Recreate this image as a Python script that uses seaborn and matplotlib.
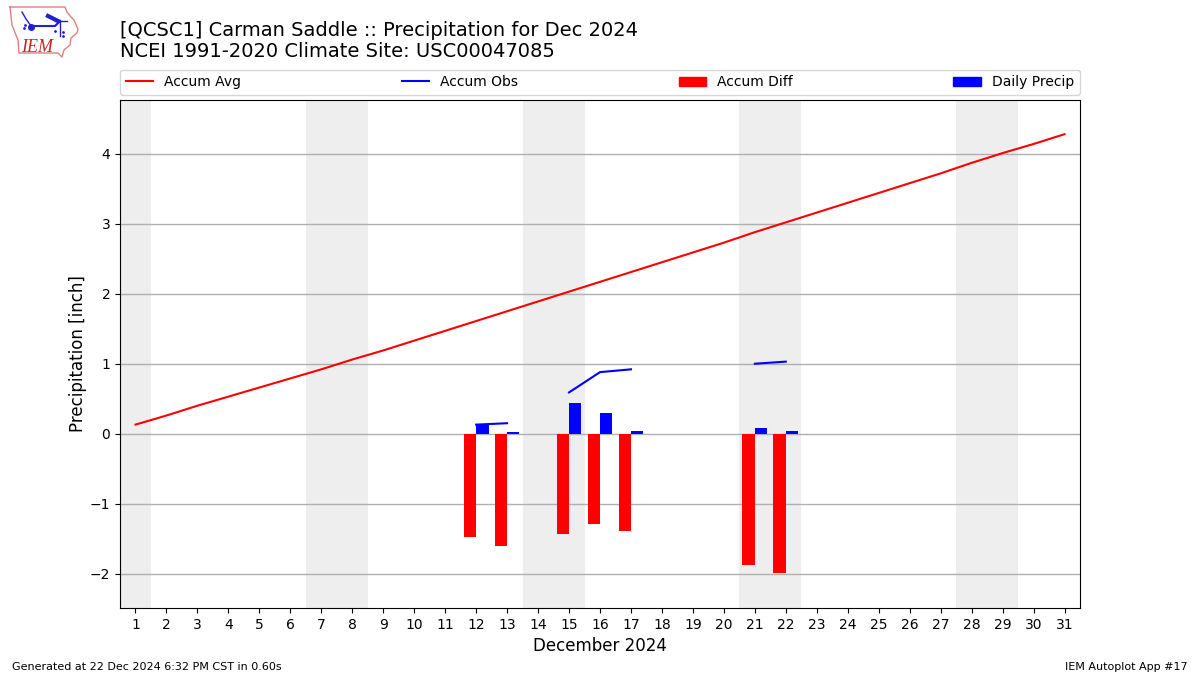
import numpy as np
import pandas as pd
import matplotlib
matplotlib.use("Agg")
import matplotlib.pyplot as plt
from matplotlib.patches import Patch
import seaborn as sns

# ==============================
# data
# ==============================
days = list(range(1, 32))
accum_avg = [0.13, 0.26, 0.40, 0.53, 0.66, 0.79, 0.92, 1.06, 1.19, 1.33, 1.47,
             1.61, 1.75, 1.89, 2.03, 2.17, 2.31, 2.45, 2.59, 2.73, 2.88, 3.02,
             3.16, 3.30, 3.44, 3.58, 3.72, 3.87, 4.01, 4.14, 4.28]

obs_days = [12, 13, 15, 16, 17, 21, 22]
obs_run = [1, 1, 2, 2, 2, 3, 3]
accum_obs = [0.13, 0.15, 0.59, 0.88, 0.92, 1.00, 1.03]
accum_diff = [-1.48, -1.60, -1.44, -1.29, -1.39, -1.88, -1.99]
daily_precip = [0.14, 0.03, 0.44, 0.30, 0.04, 0.08, 0.04]

weekends = [(0.5, 1.5), (6.5, 8.5), (13.5, 15.5), (20.5, 22.5), (27.5, 29.5)]

df_avg = pd.DataFrame({"day": days, "avg": accum_avg})
df_obs = pd.DataFrame({"day": obs_days, "run": obs_run, "obs": accum_obs,
                       "diff": accum_diff, "precip": daily_precip})

# ==============================
# figure
# ==============================
fig = plt.figure(figsize=(12, 6.75), dpi=100)
ax = fig.add_axes([0.1, 0.0993, 0.8, 0.7527])

for start, end in weekends:
    ax.axvspan(start, end, color="#eeeeee", lw=0, zorder=0)

sns.barplot(x=df_obs["day"] - 0.2, y=df_obs["diff"], native_scale=True, width=0.4,
            color="red", saturation=1, errorbar=None, ax=ax, zorder=3)
sns.barplot(x=df_obs["day"] + 0.2, y=df_obs["precip"], native_scale=True, width=0.4,
            color="blue", saturation=1, errorbar=None, ax=ax, zorder=3)

sns.lineplot(data=df_avg, x="day", y="avg", color="red", lw=1.5, ax=ax, zorder=4)
sns.lineplot(data=df_obs, x="day", y="obs", units="run", estimator=None,
             color="blue", lw=1.5, ax=ax, zorder=4)

ax.set_xlim(0.5, 31.5)
ax.set_ylim(-2.49, 4.77)
ax.set_xticks(days)
ax.set_xticklabels([str(d) for d in days])
ax.set_yticks([-2, -1, 0, 1, 2, 3, 4])
ax.set_yticklabels(["\u22122", "\u22121", "0", "1", "2", "3", "4"])
ax.grid(axis="y", color="#b0b0b0", lw=1)
ax.grid(axis="x", visible=False)
ax.set_xlabel("December 2024", fontsize=12)
ax.set_ylabel("Precipitation [inch]", fontsize=12, labelpad=2)

handles = [plt.Line2D([], [], color="red", lw=1.5),
           plt.Line2D([], [], color="blue", lw=1.5),
           Patch(color="red"), Patch(color="blue")]
ax.legend(handles, ["Accum Avg", "Accum Obs", "Accum Diff", "Daily Precip"],
          loc="lower left", bbox_to_anchor=(0, 1.010, 1, 0.05), ncol=4,
          mode="expand", borderaxespad=0, fontsize=10)

# ==============================
# titles and footer
# ==============================
fig.text(0.1, 0.9474, "[QCSC1] Carman Saddle :: Precipitation for Dec 2024",
         fontsize=14, ha="left", va="baseline")
fig.text(0.1, 0.9159, "NCEI 1991-2020 Climate Site: USC00047085",
         fontsize=14, ha="left", va="baseline")
fig.text(0.01, 0.0075, "Generated at 22 Dec 2024 6:32 PM CST in 0.60s", fontsize=8)
fig.text(0.99, 0.0075, "IEM Autoplot App #17", fontsize=8, ha="right")

# ==============================
# logo, drawn in pixel coords
# ==============================
logo = fig.add_axes([0, 1 - 60 / 675, 80 / 1200, 60 / 675])
logo.set_xlim(0, 80)
logo.set_ylim(60, 0)
logo.axis("off")
logo_x = [10, 65, 67, 71, 74, 78, 77, 71, 70, 64, 62, 58, 19, 18, 12, 10]
logo_y = [7, 7, 12, 17, 20, 29, 33, 38, 45, 50, 57, 53, 53, 40, 25, 7]
logo.plot(logo_x, logo_y, color="#e08080", lw=1)
logo.plot([30, 55, 60], [26, 26, 21], color="#2020d0", lw=1.5)
logo.plot([55, 67], [21, 21], color="#2020d0", lw=1)
logo.plot([60, 60], [21, 36], color="#2020d0", lw=1)
logo.plot([48, 58], [16, 21], color="#2020d0", lw=3)
logo.plot([31], [27], "o", color="#2020d0", ms=4)
logo.plot([22, 26, 31], [12, 19, 26], color="#2020d0", lw=1)
logo.plot([24, 25, 55, 63, 63], [28, 25, 31, 32, 36], ".", color="#2020d0", ms=2)
logo.text(21, 52, "IEM", color="#d02020", fontsize=13, family="Liberation Serif",
          style="italic", ha="left", va="baseline")

fig.savefig("out.png", dpi=100)
